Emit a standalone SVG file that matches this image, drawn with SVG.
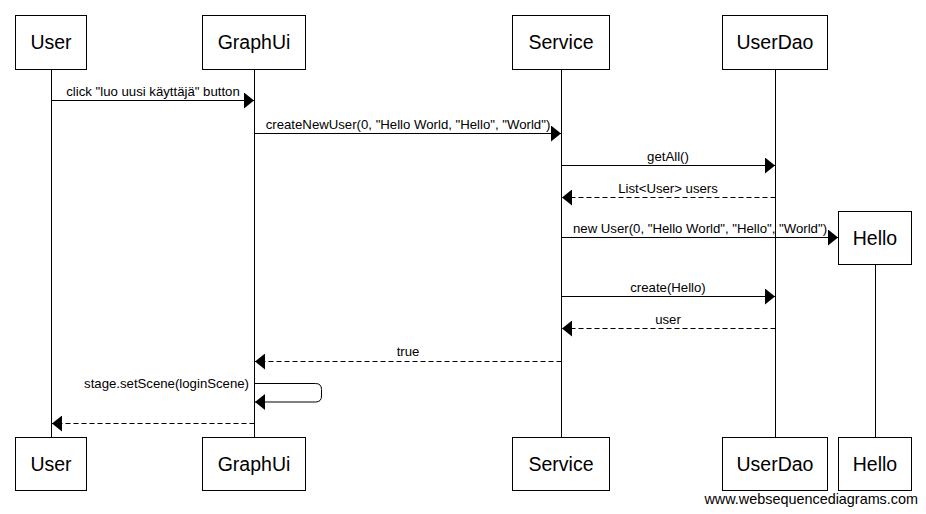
<svg xmlns="http://www.w3.org/2000/svg" width="926" height="514" viewBox="0 0 926 514">
<style>
.box{fill:#fff;stroke:#000;stroke-width:1}
.lbl{font-family:"Liberation Sans",Arial,sans-serif;font-size:19.5px;text-anchor:middle;fill:#000}
.life{stroke:#000;stroke-width:1}
.msg{stroke:#000;stroke-width:1;fill:none}
.ret{stroke:#000;stroke-width:1;fill:none;stroke-dasharray:5,3}
.mt{font-family:"Liberation Sans",Arial,sans-serif;font-size:13.2px;text-anchor:middle;fill:#000}
</style>
<defs>
<marker id="ah" markerWidth="10" markerHeight="16" refX="10" refY="8" orient="auto" markerUnits="userSpaceOnUse">
<path d="M0,0 L10,8 L0,16 Z" fill="#000"/>
</marker>
</defs>
<rect width="926" height="514" fill="#fff"/>
<g id="lifelines">
<line class="life" x1="51.5" y1="69" x2="51.5" y2="437"/>
<line class="life" x1="254.5" y1="69" x2="254.5" y2="437"/>
<line class="life" x1="561.5" y1="69" x2="561.5" y2="437"/>
<line class="life" x1="775.5" y1="69" x2="775.5" y2="437"/>
<line class="life" x1="875.5" y1="264" x2="875.5" y2="437"/>
</g>
<g id="User">
<rect class="box" x="15.5" y="15.5" width="71" height="54"/>
<text class="lbl" x="51" y="49">User</text>
<rect class="box" x="15.5" y="437.5" width="71" height="53"/>
<text class="lbl" x="51" y="471">User</text>
</g>
<g id="GraphUi">
<rect class="box" x="202.5" y="15.5" width="103" height="54"/>
<text class="lbl" x="254" y="49">GraphUi</text>
<rect class="box" x="202.5" y="437.5" width="103" height="53"/>
<text class="lbl" x="254" y="471">GraphUi</text>
</g>
<g id="Service">
<rect class="box" x="512.5" y="15.5" width="97" height="54"/>
<text class="lbl" x="561" y="49">Service</text>
<rect class="box" x="512.5" y="437.5" width="97" height="53"/>
<text class="lbl" x="561" y="471">Service</text>
</g>
<g id="UserDao">
<rect class="box" x="722.5" y="15.5" width="105" height="54"/>
<text class="lbl" x="775" y="49">UserDao</text>
<rect class="box" x="722.5" y="437.5" width="105" height="53"/>
<text class="lbl" x="775" y="471">UserDao</text>
</g>
<g id="Hello">
<rect class="box" x="838.5" y="211.5" width="73" height="53"/>
<text class="lbl" x="875" y="245">Hello</text>
<rect class="box" x="838.5" y="437.5" width="73" height="53"/>
<text class="lbl" x="875" y="471">Hello</text>
</g>
<g id="connectors">
<line class="msg" x1="51.5" y1="100.5" x2="254" y2="100.5" marker-end="url(#ah)"/>
<text class="mt" x="153" y="96">click "luo uusi käyttäjä" button</text>
<line class="msg" x1="254.5" y1="133.5" x2="561" y2="133.5" marker-end="url(#ah)"/>
<text class="mt" x="408" y="129">createNewUser(0, "Hello World, "Hello", "World")</text>
<line class="msg" x1="561.5" y1="165.5" x2="775" y2="165.5" marker-end="url(#ah)"/>
<text class="mt" x="668" y="161">getAll()</text>
<line class="ret" x1="775.5" y1="197.5" x2="562" y2="197.5" marker-end="url(#ah)"/>
<text class="mt" x="668" y="193">List&lt;User&gt; users</text>
<line class="msg" x1="561.5" y1="237.5" x2="838" y2="237.5" marker-end="url(#ah)"/>
<text class="mt" x="700" y="233">new User(0, "Hello World", "Hello", "World")</text>
<line class="msg" x1="561.5" y1="296.5" x2="775" y2="296.5" marker-end="url(#ah)"/>
<text class="mt" x="668" y="292">create(Hello)</text>
<line class="ret" x1="775.5" y1="328.5" x2="562" y2="328.5" marker-end="url(#ah)"/>
<text class="mt" x="668" y="324">user</text>
<line class="ret" x1="561.5" y1="361.5" x2="255" y2="361.5" marker-end="url(#ah)"/>
<text class="mt" x="408" y="356">true</text>
<path class="msg" d="M254.5,383.5 H315.5 Q321.5,383.5 321.5,389.5 V396 Q321.5,402 315.5,402 H255" marker-end="url(#ah)"/>
<text class="mt" x="249" y="388" style="text-anchor:end">stage.setScene(loginScene)</text>
<line class="ret" x1="254.5" y1="423.5" x2="52" y2="423.5" marker-end="url(#ah)"/>
</g>
<text x="918" y="504" style="font-family:'Liberation Sans',Arial,sans-serif;font-size:14.4px;text-anchor:end;fill:#000">www.websequencediagrams.com</text>
</svg>
